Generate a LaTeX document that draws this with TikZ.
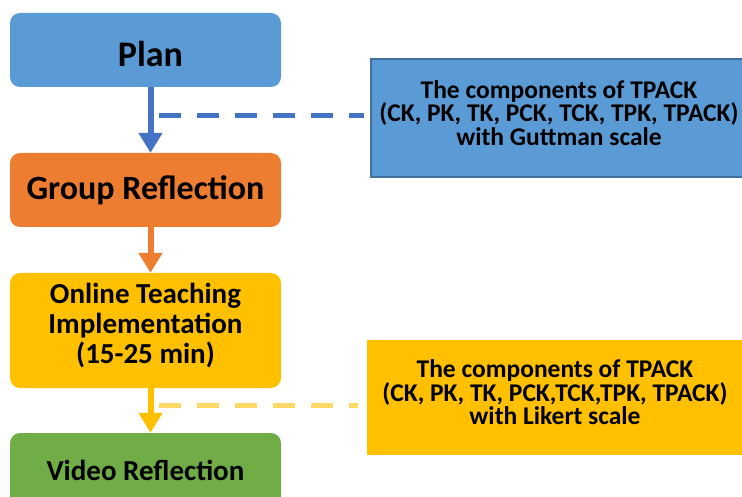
\documentclass[tikz,border=0pt]{standalone}
\usepackage{fontspec}
\setmainfont{Carlito}
\usepackage{tikz}
\usetikzlibrary{arrows.meta}
\definecolor{planblue}{HTML}{5B9BD5}
\definecolor{grouporange}{HTML}{ED7D31}
\definecolor{teachgold}{HTML}{FFC000}
\definecolor{videogreen}{HTML}{70AD47}
\definecolor{arrowblue}{HTML}{4472C4}
\definecolor{edgeblue}{HTML}{41719C}
\definecolor{dashgold}{HTML}{FFD966}
\tikzset{stage/.style={rounded corners=10pt, minimum width=271pt, inner sep=0pt, align=center}}
\tikzset{tpackbox/.style={rectangle, minimum width=376pt, inner sep=0pt}}
\tikzset{tpacktext/.style={inner sep=0pt, align=center, yshift=5pt,
    font=\fontsize{25.5}{23.5}\selectfont\bfseries}}
\tikzset{flow/.style={line width=6pt, -{Triangle[width=23pt,length=20pt]}}}
\tikzset{dashline/.style={line width=5pt, dash pattern=on 22pt off 16pt}}

\begin{document}
\begin{tikzpicture}[x=1pt,y=-1pt]
  \useasboundingbox (0,0) rectangle (742,497);
  \node[stage, fill=planblue, minimum height=74pt,
        font=\fontsize{36}{40}\selectfont\bfseries] (plan) at (145.5,50)
        {\raisebox{-4pt}[\height][\depth]{\hspace*{10pt}Plan}};
  \node[stage, fill=grouporange, minimum height=74pt,
        font=\fontsize{34}{40}\selectfont\bfseries] (group) at (145.5,190) {Group Reflection};
  \node[stage, fill=teachgold, minimum height=115pt,
        label={[inner sep=0pt, align=center, yshift=4.5pt,
                font=\fontsize{29}{30}\selectfont\bfseries]center:{Online Teaching\\Implementation\\(15-25 min)}}]
        (teach) at (145.5,330.5) {};
  \node[stage, fill=videogreen, minimum height=74pt,
        font=\fontsize{29}{30}\selectfont\bfseries] (video) at (145.5,470) {Video Reflection};
  \draw[flow, arrowblue] ([xshift=5pt]plan.south) -- ([xshift=5pt]group.north);
  \draw[flow, grouporange] ([xshift=5pt]group.south) -- ([xshift=5pt]teach.north);
  \draw[flow, teachgold] ([xshift=5pt]teach.south) -- ([xshift=5pt]video.north);
  % TPACK measures
  \node[tpackbox, fill=planblue, draw=edgeblue, line width=1.5pt, minimum height=118pt,
        label={[tpacktext]center:{The components of TPACK\\(CK, PK, TK, PCK, TCK, TPK, TPACK)\\with Guttman scale}}]
        (guttman) at (559,118) {};
  \node[tpackbox, fill=teachgold, minimum height=115pt,
        label={[tpacktext]center:{The components of TPACK\\(CK, PK, TK, PCK,TCK,TPK, TPACK)\\with Likert scale}}]
        (likert) at (555,397.5) {};
  \coordinate (gutstart) at (159,116);
  \coordinate (likstart) at (159,405);
  \draw[dashline, arrowblue, shorten >=6pt] (gutstart) -- (gutstart -| guttman.west);
  \draw[dashline, dashgold, shorten >=9pt] (likstart) -- (likstart -| likert.west);
\end{tikzpicture}
\end{document}
